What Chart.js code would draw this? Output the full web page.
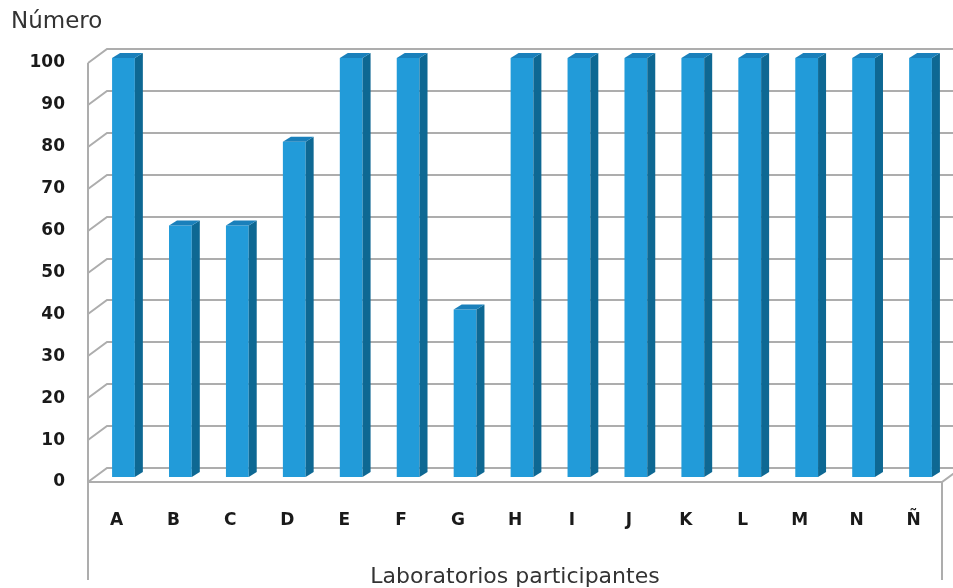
<!DOCTYPE html>
<html><head><meta charset="utf-8">
<script src="https://cdn.jsdelivr.net/npm/chart.js@4/dist/chart.umd.min.js"></script>
<style>html,body{margin:0;padding:0;background:#fff;}canvas{display:block}</style>
</head><body>
<canvas id="c" width="953" height="588"></canvas>
<script>
const categories = ['A','B','C','D','E','F','G','H','I','J','K','L','M','N','Ñ'];
const values = [100,60,60,80,100,100,40,100,100,100,100,100,100,100,100];
const yTickValues = [0,10,20,30,40,50,60,70,80,90,100];
const yTitle = 'Número';
const xTitle = 'Laboratorios participantes';

const FONT = '"DejaVu Sans", Verdana, sans-serif';
const WALL_DX = 19, WALL_DY = -14;   // depth of the back wall
const BAR_DX = 7, BAR_DY = -5;       // bar row placement in depth
const BAR_DEPTH_X = 8, BAR_DEPTH_Y = -5;
const GRID = '#adadad';

const wall3d = {
  id: 'wall3d',
  beforeDatasetsDraw(chart) {
    const ctx = chart.ctx, a = chart.chartArea, y = chart.scales.y;
    ctx.save();
    ctx.strokeStyle = GRID;
    ctx.lineWidth = 2;
    ctx.beginPath();
    yTickValues.forEach(v => {
      const fy = Math.round(y.getPixelForValue(v));
      ctx.moveTo(a.left, fy);
      ctx.lineTo(a.left + WALL_DX, fy + WALL_DY);
      ctx.lineTo(chart.width + 5, fy + WALL_DY);
    });
    ctx.moveTo(a.left, Math.round(y.getPixelForValue(100)));
    ctx.lineTo(a.left, chart.height - 8);
    ctx.moveTo(a.left, a.bottom);
    ctx.lineTo(a.right, a.bottom);
    ctx.lineTo(a.right + WALL_DX, a.bottom + WALL_DY);
    ctx.moveTo(a.right, a.bottom);
    ctx.lineTo(a.right, chart.height - 8);
    ctx.stroke();
    ctx.restore();

    ctx.save();
    ctx.translate(BAR_DX, BAR_DY);
  },
  afterDatasetsDraw(chart) {
    const ctx = chart.ctx;
    const meta = chart.getDatasetMeta(0);
    meta.data.forEach(el => {
      const p = el.getProps(['x','y','base','width'], true);
      const l = p.x - p.width / 2, r = p.x + p.width / 2;
      const t = p.y, b = p.base;
      ctx.fillStyle = '#0e6893';
      ctx.beginPath();
      ctx.moveTo(r, t);
      ctx.lineTo(r + BAR_DEPTH_X, t + BAR_DEPTH_Y);
      ctx.lineTo(r + BAR_DEPTH_X, b + BAR_DEPTH_Y);
      ctx.lineTo(r, b);
      ctx.closePath();
      ctx.fill();
      ctx.fillStyle = '#1a80bb';
      ctx.beginPath();
      ctx.moveTo(l, t);
      ctx.lineTo(l + BAR_DEPTH_X, t + BAR_DEPTH_Y);
      ctx.lineTo(r + BAR_DEPTH_X, t + BAR_DEPTH_Y);
      ctx.lineTo(r, t);
      ctx.closePath();
      ctx.fill();
    });
    ctx.restore();
  },
  afterDraw(chart) {
    const ctx = chart.ctx;
    ctx.save();
    ctx.font = '23px ' + FONT;
    ctx.fillStyle = '#333333';
    ctx.textBaseline = 'middle';
    ctx.textAlign = 'left';
    ctx.fillText(yTitle, 11, 22);
    ctx.restore();
  }
};

new Chart(document.getElementById('c'), {
  type: 'bar',
  data: {
    labels: categories,
    datasets: [{
      data: values,
      backgroundColor: '#229bd9',
      borderWidth: 0,
      categoryPercentage: 1,
      barPercentage: 0.4,
      clip: false
    }]
  },
  options: {
    responsive: false,
    animation: false,
    devicePixelRatio: 1,
    layout: { padding: { top: 63, left: 0, right: 11, bottom: 0 } },
    plugins: { legend: { display: false }, tooltip: { enabled: false }, title: { display: false } },
    scales: {
      x: {
        grid: { display: false },
        border: { display: false },
        ticks: { color: '#1a1a1a', font: { family: FONT, size: 17, weight: 'bold' }, padding: 20, maxRotation: 0 },
        title: { display: true, text: xTitle, color: '#333333', font: { family: FONT, size: 22 }, padding: { top: 0, bottom: -2 } },
        afterFit(s) { s.height = 106; }
      },
      y: {
        min: 0, max: 100,
        grid: { display: false },
        border: { display: false },
        afterBuildTicks(s) { s.ticks = yTickValues.map(v => ({ value: v })); },
        ticks: { color: '#1a1a1a', font: { family: FONT, size: 17, weight: 'bold' }, padding: 15 },
        afterFit(s) { s.width = 88; }
      }
    }
  },
  plugins: [wall3d]
});
</script>
</body></html>
